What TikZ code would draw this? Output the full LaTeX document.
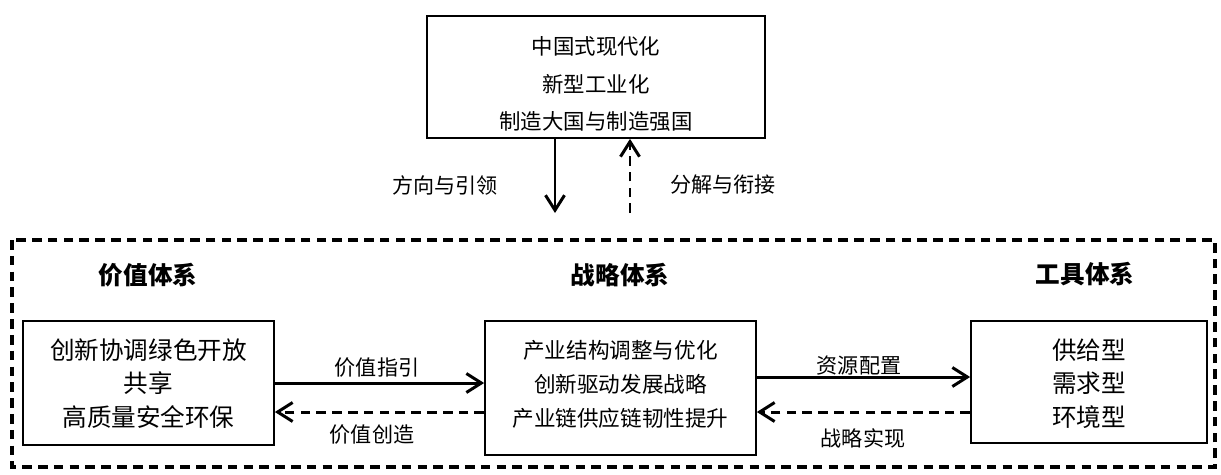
\documentclass[tikz,border=0pt]{standalone}
\usepackage{fontspec}
\setmainfont{Noto Sans CJK SC}
\usepackage{tikz}
\usetikzlibrary{arrows.meta}

\begin{document}
\begin{tikzpicture}[x=0.02cm, y=-0.02cm,
    box/.style={draw, line width=1pt, inner sep=0pt},
    txt/.style={align=center, font=\fontsize{14}{19}\selectfont},
    smalltxt/.style={align=center, font=\fontsize{12.3}{19.3}\selectfont},
    lbl/.style={font=\fontsize{12}{14}\selectfont},
    head/.style={font=\fontsize{14}{16}\selectfont\bfseries},
    tip/.style={-{Straight Barb[length=3mm, width=3.8mm, line width=1.7pt]}},
    solidarr/.style={tip, line width=1.7pt},
    dasharr/.style={tip, line width=1.7pt, dash pattern=on 5.5pt off 3.5pt}]
        \useasboundingbox (0,0) rectangle (1221,474);

        \node[box, minimum width=6.76cm, minimum height=2.44cm] (goal) at (596,77) {};
        \node[txt, font=\fontsize{12.2}{21.3}\selectfont] (goaltext) at (596,84) {中国式现代化\\新型工业化\\制造大国与制造强国};

        \coordinate (downend) at (555,213);
        \coordinate (upstart) at (630,213);
        \draw[solidarr] (goal.south -| downend) -- (downend);
        \draw[dasharr] (upstart) -- (goal.south -| upstart);
        \node[lbl] (guide) at (445,185) {方向与引领};
        \node[lbl] (split) at (723,185) {分解与衔接};

        \draw[line width=1.9pt, dash pattern=on 5.5pt off 3.5pt] (12,240) rectangle (1215,467);

        \node[head] (valuehead) at (148,275) {价值体系};
        \node[head] (stratehead) at (620,275) {战略体系};
        \node[head] (toolhead) at (1085,274) {工具体系};

        \node[box, minimum width=5.02cm, minimum height=2.48cm] (value) at (148.5,383) {};
        \node[txt] (valuetext) at (148.5,383.5) {创新协调绿色开放\\共享\\高质量安全环保};

        \node[box, minimum width=5.42cm, minimum height=2.68cm] (strate) at (620.5,388) {};
        \node[smalltxt] (stratetext) at (620.5,384) {产业结构调整与优化\\创新驱动发展战略\\产业链供应链韧性提升};

        \node[box, minimum width=4.72cm, minimum height=2.44cm] (tool) at (1089,382) {};
        \node[txt] (tooltext) at (1089,383.5) {供给型\\需求型\\环境型};

        \draw[solidarr] (value.east |- 0,383) -- (strate.west |- 0,383);
        \draw[dasharr] (strate.west |- 0,412) -- (value.east |- 0,412);
        \node[lbl] (valueguide) at (377,368) {价值指引};
        \node[lbl] (valuemake) at (372,435) {价值创造};

        \draw[solidarr] (strate.east |- 0,377) -- (tool.west |- 0,377);
        \draw[dasharr] (tool.west |- 0,412) -- (strate.east |- 0,412);
        \node[lbl] (resource) at (859,366) {资源配置};
        \node[lbl] (realize) at (863,438) {战略实现};
\end{tikzpicture}
\end{document}
